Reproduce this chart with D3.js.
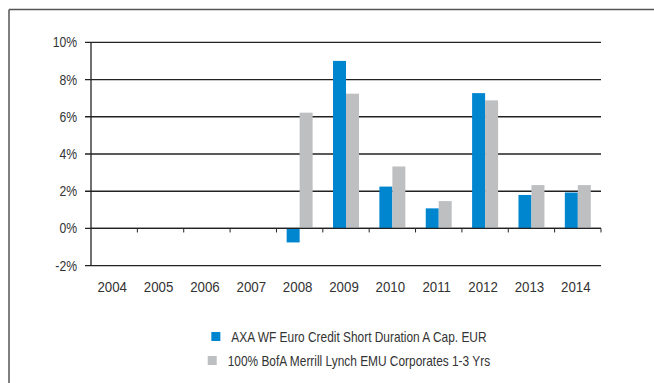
<!DOCTYPE html>
<html><head><meta charset="utf-8">
<script src="https://cdn.jsdelivr.net/npm/d3@7/dist/d3.min.js"></script>
<style>
html,body{margin:0;padding:0;background:#fff;}
svg text{font-family:"Liberation Sans Narrow","Liberation Sans",Arial,sans-serif;fill:#333;}
</style></head>
<body>
<svg id="chart" width="654" height="383"></svg>
<script>
const years = ["2004","2005","2006","2007","2008","2009","2010","2011","2012","2013","2014"];
const fundValues = [null,null,null,null,-0.75,9.0,2.25,1.08,7.27,1.8,1.93];
const benchValues = [null,null,null,null,6.22,7.24,3.33,1.47,6.88,2.33,2.33];
const seriesNames = ["AXA WF Euro Credit Short Duration A Cap. EUR","100% BofA Merrill Lynch EMU Corporates 1-3 Yrs"];
const seriesColors = ["#0086cf","#bebfc1"];
const yTicks = [-2,0,2,4,6,8,10];

const svg = d3.select("#chart");
// frame
svg.append("line").attr("x1",9).attr("x2",654).attr("y1",9.5).attr("y2",9.5).attr("stroke","#555").attr("stroke-width",1.5);
svg.append("line").attr("x1",9).attr("x2",9).attr("y1",9.5).attr("y2",383).attr("stroke","#555").attr("stroke-width",1.5);

const x0 = d3.scaleBand().domain(years).range([91,601]).padding(0);
const step = x0.step();
const x1 = d3.scaleBand().domain([0,1]).range([step*0.22, step*0.78]).padding(0);
const y = d3.scaleLinear().domain([-2,10]).range([265.7,42.3]);

// gridlines
svg.append("g").selectAll("line").data(yTicks).join("line")
  .attr("x1",85).attr("x2",601).attr("y1",d=>y(d)).attr("y2",d=>y(d))
  .attr("stroke","#222").attr("stroke-width",1.3);
// y axis line
svg.append("line").attr("x1",91).attr("x2",91).attr("y1",y(10)).attr("y2",y(-2)).attr("stroke","#222").attr("stroke-width",1.3);
// y labels
svg.append("g").selectAll("text").data(yTicks).join("text")
  .attr("transform",d=>`translate(77,${y(d)+5}) scale(0.87,1)`)
  .attr("text-anchor","end").attr("font-size",14)
  .text(d=>d+"%");

// bars
const data = years.map((yr,i)=>({yr, vals:[fundValues[i],benchValues[i]]}));
const groups = svg.append("g").selectAll("g").data(data).join("g")
  .attr("transform",d=>`translate(${x0(d.yr)},0)`);
groups.selectAll("rect").data(d=>d.vals.map((v,k)=>({v,k})).filter(e=>e.v!==null)).join("rect")
  .attr("x",e=>x1(e.k)).attr("width",x1.bandwidth())
  .attr("y",e=>y(Math.max(0,e.v))).attr("height",e=>Math.abs(y(e.v)-y(0)))
  .attr("fill",e=>seriesColors[e.k]);

// x axis line over bars
svg.append("line").attr("x1",91).attr("x2",601).attr("y1",y(0)).attr("y2",y(0)).attr("stroke","#222").attr("stroke-width",1.3);
// x ticks at band boundaries
const bounds = years.slice(1).map(yr=>x0(yr)).concat([601]);
svg.append("g").selectAll("line").data(bounds).join("line")
  .attr("x1",d=>d).attr("x2",d=>d).attr("y1",y(0)).attr("y2",y(0)+4)
  .attr("stroke","#222").attr("stroke-width",1);
// year labels
svg.append("g").selectAll("text").data(years).join("text")
  .attr("transform",d=>`translate(${x0(d)+step/2-2},292) scale(0.95,1)`)
  .attr("text-anchor","middle").attr("font-size",14)
  .text(d=>d);

// legend
const legCenter = 349;
const legRows = [{i:0,y:342},{i:1,y:366}];
const sx = 0.85;
legRows.forEach(r=>{
  const g = svg.append("g");
  const t = g.append("text").attr("x",0).attr("y",0).attr("font-size",14).text(seriesNames[r.i]);
  const w = t.node().getComputedTextLength()*sx;
  const gap = 11;
  const total = 9+gap+w;
  const start = legCenter - total/2;
  g.append("rect").attr("x",start).attr("y",r.y-10).attr("width",9).attr("height",9).attr("fill",seriesColors[r.i]);
  t.attr("transform",`translate(${start+9+gap},${r.y}) scale(${sx},1)`);
});
</script>
</body></html>
